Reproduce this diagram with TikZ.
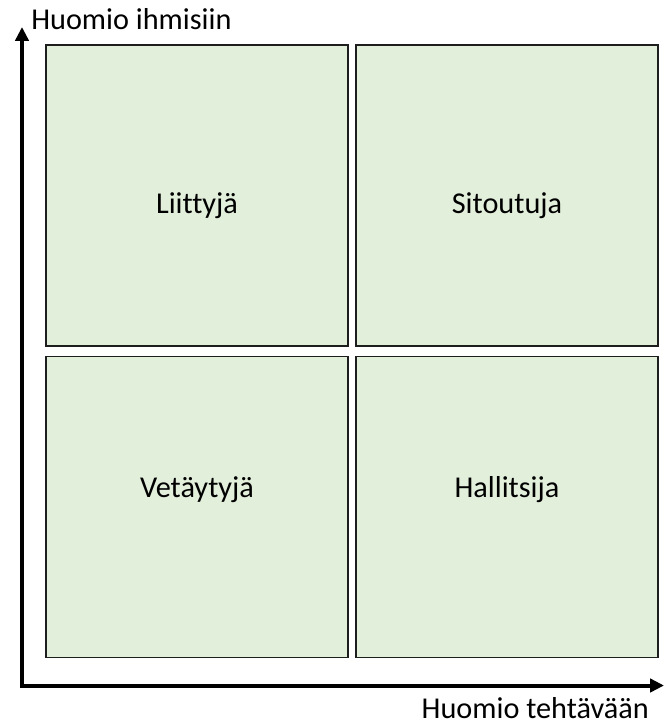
\documentclass[tikz,border=0pt]{standalone}
\usepackage{fontspec}
\setmainfont[Ligatures=NoCommon]{Carlito}
\usetikzlibrary{arrows.meta}
\definecolor{sage}{RGB}{226,239,218}
\definecolor{edge}{RGB}{30,30,30}
\tikzset{
  >={Triangle[length=10.5pt,width=10pt]},
  quad/.style={draw=edge,fill=sage,line width=1.1pt,outer sep=0pt,
    minimum width=226.5pt,minimum height=225.8pt},
  quadlabel/.style={inner sep=0pt,anchor=base,font=\fontsize{22.7}{26}\selectfont},
  axis/.style={->,line width=3pt},
  axislabel/.style={inner sep=0pt,font=\fontsize{22.7}{26}\selectfont},
}
\begin{document}
\begin{tikzpicture}[x=0.75pt,y=-0.75pt]
        \useasboundingbox (0,0) rectangle (664,724);
        % quadrants
        \foreach \n/\x/\y/\b/\t in {tl/197/195.5/213/Liittyjä,tr/507/195.5/213/Sitoutuja,
            bl/197/507/497/Vetäytyjä,br/507/507/497/Hallitsija}{
          \node[quad] (\n) at (\x,\y) {};
          \node[quadlabel] (\n-txt) at (\x,\b) {\t};
        }
        % axes
        \coordinate (o) at (22,685.5);
        \coordinate (ytop) at (22,27);
        \coordinate (xend) at (664,685.5);
        \draw[axis] ([yshift=1.5pt]o) -- (ytop);
        \draw[axis] ([xshift=-1.5pt]o) -- (xend);
        \node[axislabel,anchor=base west] (ylab) at (31,30) {Huomio ihmisiin};
        \node[axislabel,anchor=base east] (xlab) at (649,718) {Huomio tehtävään};
      \end{tikzpicture}
\end{document}
